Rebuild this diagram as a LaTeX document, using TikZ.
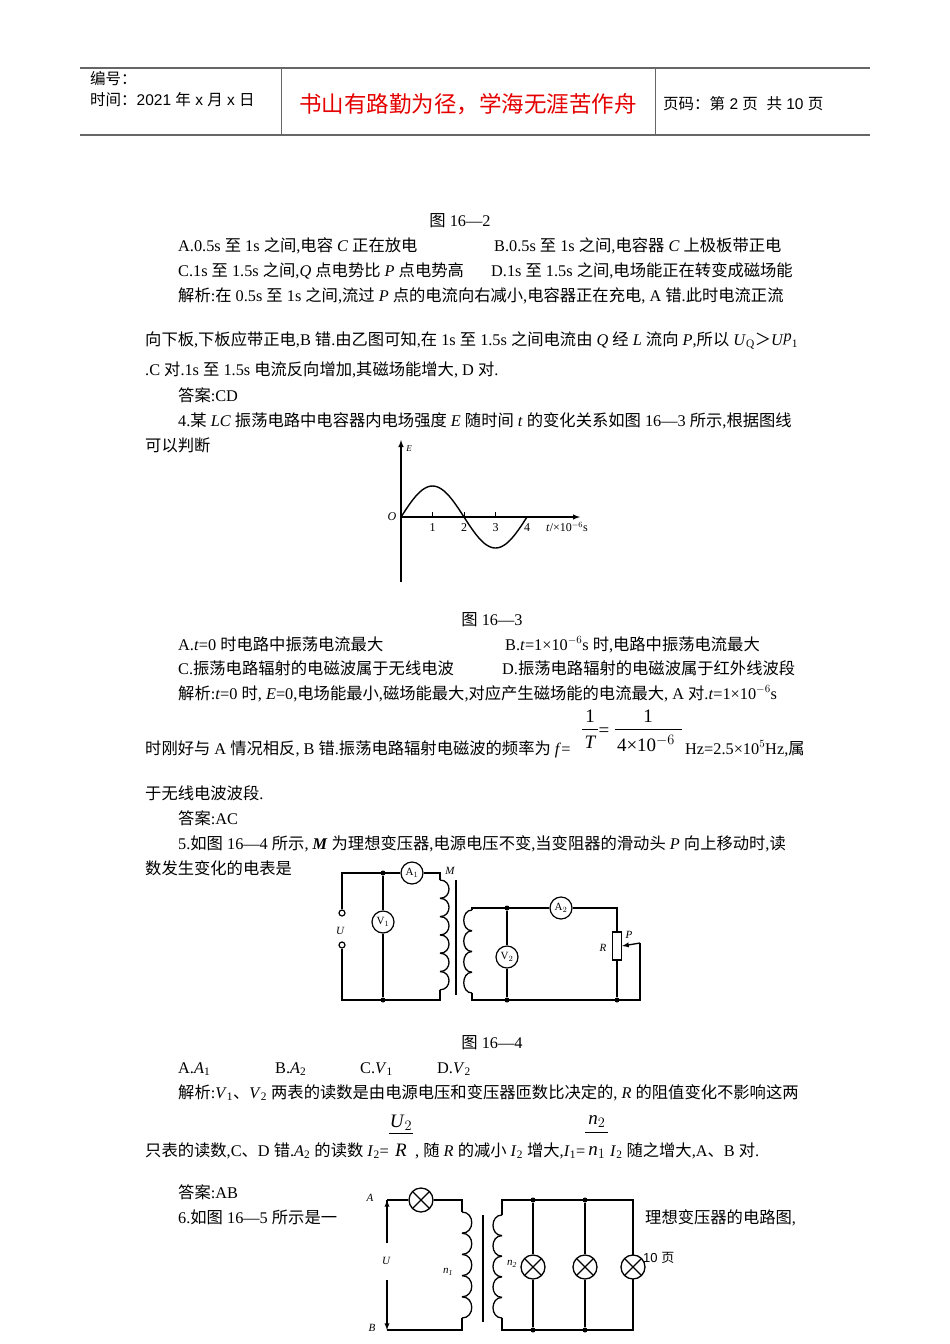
\documentclass[tikz,border=0pt]{standalone}
\usepackage{fontspec}
\setmainfont{Liberation Serif}
\setsansfont{Liberation Sans}
\makeatletter
\def\cjk{\font\cjkf="Noto Sans CJK SC" at \f@size pt\cjkf}
\makeatother
\XeTeXinterchartokenstate=1
\newXeTeXintercharclass\cjkcls
\newcount\cc
\cc="4E00 \loop \XeTeXcharclass\cc=\cjkcls \advance\cc by 1 \ifnum\cc<"A000 \repeat
\cc="3000 \loop \XeTeXcharclass\cc=\cjkcls \advance\cc by 1 \ifnum\cc<"3040 \repeat
\cc="FF00 \loop \XeTeXcharclass\cc=\cjkcls \advance\cc by 1 \ifnum\cc<"FFF0 \repeat
\XeTeXinterchartoks 0 \cjkcls={\cjk}
\XeTeXinterchartoks 4095 \cjkcls={\cjk}
\XeTeXinterchartoks \cjkcls 0={\selectfont}
\XeTeXinterchartoks \cjkcls 4095={\selectfont}
\tikzset{
 txt/.style={anchor=base west,inner sep=0,font=\fontsize{16.3}{18}\selectfont},
 ctxt/.style={anchor=base,inner sep=0,font=\fontsize{16.3}{18}\selectfont},
 hdr/.style={anchor=base west,inner sep=0,font=\sffamily\fontsize{15.5}{18}\selectfont},
 meter/.style={circle,draw,line width=1.2pt,fill=white,minimum size=22pt,inner sep=0,font=\fontsize{11}{11}\selectfont},
 lamp/.style={circle,draw,line width=1.3pt,fill=white,minimum size=24pt,inner sep=0,
   path picture={\draw[line width=1.3pt] (path picture bounding box.north west)--(path picture bounding box.south east)
   (path picture bounding box.north east)--(path picture bounding box.south west);}},
 dot/.style={circle,fill,inner sep=0,minimum size=5pt},
 term/.style={circle,draw,line width=1.2pt,fill=white,inner sep=0,minimum size=6pt},
 wire/.style={line width=1.3pt},
 lbl/.style={inner sep=0,font=\itshape\fontsize{11}{11}\selectfont},
}
\begin{document}
\begin{tikzpicture}[x=1pt,y=-1pt]
\useasboundingbox (0,0) rectangle (950,1344);
% header
\draw[gray!80!black,line width=1.2pt] (80,68)--(870,68) (80,135)--(870,135);
\draw[gray!80!black,line width=0.8pt] (281,68)--(281,135) (655,68)--(655,135);
\node[hdr] (h1) at (90,84) {编号：};
\node[hdr] (h2) at (90,105) {时间：2021 年 x 月 x 日};
\node[anchor=base,inner sep=0,text=red!90!black,font=\fontsize{22.5}{24}\selectfont] (h3) at (468,112) {书山有路勤为径，学海无涯苦作舟};
\node[hdr] (h4) at (663,109) {页码：第 2 页\ \ 共 10 页};
% block 1
\node[ctxt] (f2) at (460,226) {图 16—2};
\node[txt] at (178,251) {A.0.5s 至 1s 之间,电容 \textit{C} 正在放电};
\node[txt] at (494,251) {B.0.5s 至 1s 之间,电容器 \textit{C} 上极板带正电};
\node[txt] at (178,276) {C.1s 至 1.5s 之间,\textit{Q} 点电势比 \textit{P} 点电势高};
\node[txt] at (491,276) {D.1s 至 1.5s 之间,电场能正在转变成磁场能};
\node[txt] at (178,301) {解析:在 0.5s 至 1s 之间,流过 \textit{P} 点的电流向右减小,电容器正在充电, A 错.此时电流正流};
\node[txt] at (145,345) {向下板,下板应带正电,B 错.由乙图可知,在 1s 至 1.5s 之间电流由 \textit{Q} 经 \textit{L} 流向 \textit{P},所以 \textit{U}\textsubscript{Q}＞\textit{U}\raisebox{0.5ex}{\textit{p}}\textsubscript{1}};
\node[txt] at (145,375) {.C 对.1s 至 1.5s 电流反向增加,其磁场能增大, D 对.};
\node[txt] at (178,401) {答案:CD};
\node[txt] at (178,426) {4.某 \textit{LC} 振荡电路中电容器内电场强度 \textit{E} 随时间 \textit{t} 的变化关系如图 16—3 所示,根据图线};
\node[txt] at (145,451) {可以判断};
% graph
\coordinate (O) at (401,517);
\draw[line width=1.4pt,-latex] (401,582)--(401,440);
\draw[line width=1.4pt,-latex] (O)--(580,517);
\draw[line width=1.4pt] plot[domain=0:4,samples=60] ({401+31.5*\x},{517-31*sin(90*\x)});
\foreach \i in {1,2,3} \draw[thick] ({401+31.5*\i},517)--({401+31.5*\i},512);
\node[lbl,font=\itshape\fontsize{12}{12}\selectfont] (Ol) at (392,517) {O};
\node[lbl,font=\itshape\fontsize{9}{9}\selectfont] (El) at (409,449) {E};
\foreach \i in {1,2,3,4} \node[inner sep=0,font=\fontsize{12}{12}\selectfont] at ({401+31.5*\i},528) {\i};
\node[anchor=west,inner sep=0,font=\fontsize{12}{12}\selectfont] (tl) at (546,527) {\textit{t}/×10$^{-6}$s};
\node[ctxt] (f3) at (492,625) {图 16—3};
\node[txt] at (178,650) {A.\textit{t}=0 时电路中振荡电流最大};
\node[txt] at (505,650) {B.\textit{t}=1×10$^{-6}$s 时,电路中振荡电流最大};
\node[txt] at (178,674) {C.振荡电路辐射的电磁波属于无线电波};
\node[txt] at (502,674) {D.振荡电路辐射的电磁波属于红外线波段};
\node[txt] at (178,699) {解析:\textit{t}=0 时, \textit{E}=0,电场能最小,磁场能最大,对应产生磁场能的电流最大, A 对.\textit{t}=1×10$^{-6}$s};
\node[txt] at (145,754) {时刚好与 A 情况相反, B 错.振荡电路辐射电磁波的频率为 \textit{f}=};
\node[ctxt,font=\fontsize{19}{20}\selectfont] at (590,722) {1};
\draw (582,729)--(598,729);
\node[ctxt,font=\itshape\fontsize{19}{20}\selectfont] at (590,748) {T};
\node[ctxt,font=\fontsize{19}{20}\selectfont] at (604,736) {=};
\node[ctxt,font=\fontsize{19}{20}\selectfont] at (648,722) {1};
\draw (615,729)--(682,729);
\node[ctxt,font=\fontsize{19}{20}\selectfont] at (646,751) {4×10$^{-6}$};
\node[txt] at (685,754) {Hz=2.5×10$^{5}$Hz,属};
\node[txt] at (145,799) {于无线电波波段.};
\node[txt] at (178,824) {答案:AC};
\node[txt] at (178,849) {5.如图 16—4 所示, \textbf{\textit{M}} 为理想变压器,电源电压不变,当变阻器的滑动头 \textit{P} 向上移动时,读};
\node[txt] at (145,874) {数发生变化的电表是};
% circuit 1
\node[meter] (A1) at (412,873) {A$_1$};
\node[meter] (V1) at (383,922) {V$_1$};
\node[meter] (A2) at (561,908) {A$_2$};
\node[meter] (V2) at (507,957) {V$_2$};
\node[term] (T1) at (342,913) {};
\node[term] (T2) at (342,945) {};
\node[dot] (d1) at (383,873) {};
\node[dot] (d2) at (383,1000) {};
\draw[wire] (T1)--(342,873)--(A1)--(440,873)--(440,880);
\draw[wire] (T2)--(342,1000)--(440,1000)--(440,990);
\draw[wire] (d1)--(V1)--(d2);
\foreach \i in {0,...,5} \draw[wire] (440,{880+\i*18.3}) .. controls (452,{880+\i*18.3}) and (452,{898.3+\i*18.3}) .. (440,{898.3+\i*18.3});
\draw[line width=2pt] (456,880)--(456,995);
\node[lbl] at (450,871) {M};
\node[lbl] at (340,931) {U};
\draw[wire] (472,910)--(472,908)--(A2)--(617,908)--(617,932);
\foreach \i in {0,...,3} \draw[wire] (472,{910+\i*20.75}) .. controls (461,{910+\i*20.75}) and (461,{930.75+\i*20.75}) .. (472,{930.75+\i*20.75});
\draw[wire] (472,993)--(472,1000)--(640,1000)--(640,943);
\node[dot] (d3) at (507,908) {};
\node[dot] (d4) at (507,1000) {};
\node[dot] (d5) at (617,1000) {};
\draw[wire] (d3)--(V2)--(d4);
\node[draw,line width=1.2pt,fill=white,minimum width=9pt,minimum height=28pt,inner sep=0] (R) at (617,946) {};
\draw[wire] (R.south)--(d5);
\draw[wire,-latex] (640,943)--(R.east);
\node[lbl] at (603,948) {R};
\node[lbl] at (629,935) {P};
\node[ctxt] (f4) at (492,1048) {图 16—4};
\node[txt] at (178,1073) {A.\textit{A}\textsubscript{1}};
\node[txt] at (275,1073) {B.\textit{A}\textsubscript{2}};
\node[txt] at (360,1073) {C.\textit{V}\textsubscript{1}};
\node[txt] at (437,1073) {D.\textit{V}\textsubscript{2}};
\node[txt] at (178,1098) {解析:\textit{V}\textsubscript{1}、\textit{V}\textsubscript{2} 两表的读数是由电源电压和变压器匝数比决定的, \textit{R} 的阻值变化不影响这两};
\node[txt] at (145,1156) {只表的读数,C、D 错.\textit{A}\textsubscript{2} 的读数 \textit{I}\textsubscript{2}=};
\node[ctxt,font=\fontsize{19}{20}\selectfont] at (401,1127) {\textit{U}$_2$};
\draw (389,1133)--(413,1133);
\node[ctxt,font=\fontsize{19}{20}\selectfont] at (401,1156) {\textit{R}};
\node[txt] at (415,1156) {, 随 \textit{R} 的减小 \textit{I}\textsubscript{2} 增大,\textit{I}\textsubscript{1}=};
\node[ctxt,font=\fontsize{19}{20}\selectfont] at (597,1124) {\textit{n}$_2$};
\draw (585,1132)--(608,1132);
\node[ctxt,font=\fontsize{19}{20}\selectfont] at (597,1155) {\textit{n}$_1$};
\node[txt] at (610,1156) {\textit{I}\textsubscript{2} 随之增大,A、B 对.};
\node[txt] at (178,1198) {答案:AB};
\node[txt] at (178,1223) {6.如图 16—5 所示是一};
\node[txt] at (645,1223) {理想变压器的电路图,};
% circuit 2
\node[lamp] (L0) at (421,1200) {};
\draw[wire] (387,1200)--(L0)--(462,1200)--(462,1212);
\draw[wire] (387,1200)--(387,1243);
\draw[wire,-latex] (387,1243)--(387,1200);
\draw[wire,-latex] (387,1280)--(387,1330);
\draw[line width=2.2pt] (387,1330)--(462,1330)--(462,1318);
\foreach \i in {0,...,4} \draw[wire] (462,{1212+\i*21.2}) .. controls (475,{1212+\i*21.2}) and (475,{1233.2+\i*21.2}) .. (462,{1233.2+\i*21.2});
\draw[line width=1.5pt] (483,1215)--(483,1322);
\foreach \i in {0,...,4} \draw[wire] (502,{1215+\i*20.6}) .. controls (490,{1215+\i*20.6}) and (490,{1235.6+\i*20.6}) .. (502,{1235.6+\i*20.6});
\draw[wire] (502,1215)--(502,1200)--(633,1200)--(633,1330)--(502,1330)--(502,1318);
\node[dot] (t1) at (533,1200) {};
\node[dot] (b1) at (533,1330) {};
\node[dot] (t2) at (585,1200) {};
\node[dot] (b2) at (585,1330) {};
\node[lamp] (L1) at (533,1267) {};
\node[lamp] (L2) at (585,1267) {};
\node[lamp] (L3) at (633,1267) {};
\draw[wire] (t1)--(L1)--(b1) (t2)--(L2)--(b2);
\node[lbl] at (370,1198) {A};
\node[lbl] at (372,1328) {B};
\node[lbl] at (386,1261) {U};
\node[lbl] at (448,1272) {n\textsubscript{1}};
\node[lbl] at (512,1264) {n\textsubscript{2}};
\node[anchor=base west,inner sep=0,font=\sffamily\fontsize{13}{14}\selectfont] at (643,1262) {10\ 页};
\end{tikzpicture}
\end{document}
